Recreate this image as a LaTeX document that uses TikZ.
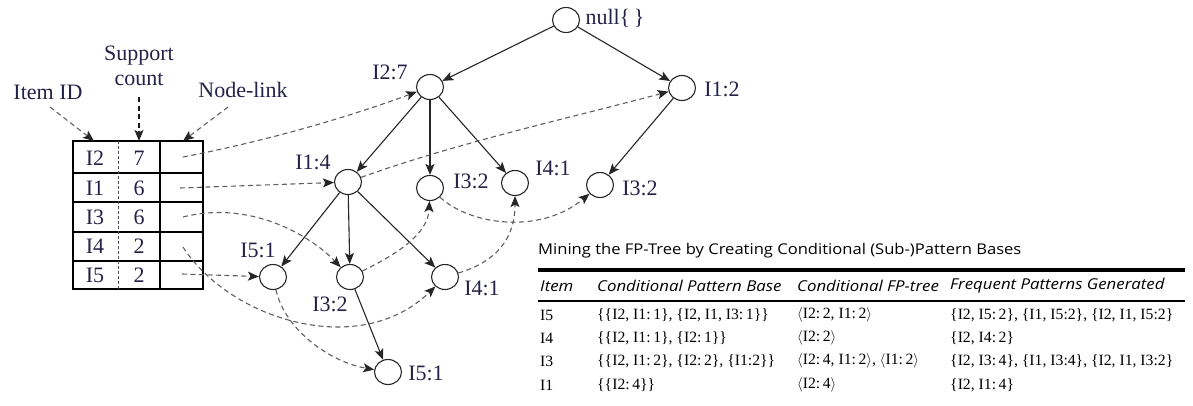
\documentclass[tikz,border=0pt]{standalone}
\usepackage{fontspec}
\setmainfont{Liberation Serif}
\newfontfamily\capfont[FakeStretch=1.12]{Open Sans}
\usetikzlibrary{arrows.meta,shapes.geometric}
\definecolor{labelc}{RGB}{36,34,72}
\definecolor{linkc}{RGB}{95,95,95}
\begin{document}
\begin{tikzpicture}[x=1pt,y=-1pt,
  treenode/.style={draw=black!85, line width=1.1pt, ellipse, minimum width=27pt, minimum height=25pt, inner sep=0pt},
  lbl/.style={font=\fontsize{22}{26}\selectfont, text=labelc, inner sep=0pt},
  celltxt/.style={font=\fontsize{22}{26}\selectfont, text=labelc, inner sep=0pt},
  tip/.style={-{Stealth[length=11pt,width=9pt,inset=2.5pt]}},
  darktip/.style={-{Stealth[length=11pt,width=9pt,inset=2.5pt,color=black!85]}},
  treearrow/.style={tip, line width=1.1pt, draw=black!85},
  nodelink/.style={darktip, line width=1.1pt, draw=linkc, dash pattern=on 5pt off 3.5pt},
  darklink/.style={darktip, line width=1.1pt, draw=black!90, dash pattern=on 5pt off 3.5pt},
  captxt/.style={font=\capfont\fontsize{14.8}{17}\selectfont, anchor=west, inner sep=0pt},
  headtxt/.style={font=\capfont\itshape\fontsize{15}{17}\selectfont, anchor=west, inner sep=0pt},
  bodytxt/.style={font=\fontsize{15.7}{17}\selectfont, anchor=west, inner sep=0pt}
]
\useasboundingbox (0,0) rectangle (1193,405);

% ---------- header table ----------
\draw[line width=1.1pt] (73,141) rectangle (203,289);
\foreach \yy in {173,202,232,261} \draw[line width=1.1pt] (73,\yy) -- (203,\yy);
\draw[line width=1.1pt] (160,141) -- (160,289);
\draw[line width=0.9pt, black!70, dash pattern=on 3pt off 2pt] (118,141) -- (118,289);

\node[celltxt] (id2) at (95,158) {I2};  \node[celltxt] (c2) at (139,158) {7};
\node[celltxt] (id1) at (95,188) {I1};  \node[celltxt] (c1) at (139,188) {6};
\node[celltxt] (id3) at (95,217) {I3};  \node[celltxt] (c3) at (139,217) {6};
\node[celltxt] (id4) at (95,246) {I4};  \node[celltxt] (c4) at (139,246) {2};
\node[celltxt] (id5) at (95,275) {I5};  \node[celltxt] (c5) at (139,275) {2};

% column captions
\node[lbl] (lid) at (48,92) {Item ID};
\node[lbl, align=center] (lsup) at (139,66) {Support\\[-1pt]count};
\node[lbl] (lnl) at (243,90) {Node-link};
\coordinate (aid0) at (50,107);  \coordinate (aid1) at (94,141);
\coordinate (asp0) at (139,97);  \coordinate (asp1) at (139,141);
\coordinate (anl0) at (228,107); \coordinate (anl1) at (183,141);
\draw[nodelink] (aid0) -- (aid1);
\draw[darklink] (asp0) -- (asp1);
\draw[nodelink] (anl0) -- (anl1);

% node-link starts
\coordinate (s2) at (183,157);
\coordinate (s1) at (180,188);
\coordinate (s3) at (183,217);
\coordinate (s4) at (183,247);
\coordinate (s5) at (182,274);

% ---------- FP-tree ----------
\node[treenode] (root) at (566,20) {};
\node[treenode] (n27) at (430,87) {};
\node[treenode] (n12) at (682,88) {};
\node[treenode] (n14) at (348,182) {};
\node[treenode] (n32a) at (430,188) {};
\node[treenode] (n41a) at (515,183) {};
\node[treenode] (n32r) at (600,185) {};
\node[treenode] (n51l) at (273,277) {};
\node[treenode] (n32m) at (350,277) {};
\node[treenode] (n41r) at (445,277) {};
\node[treenode] (n51b) at (388,372) {};

\node[lbl] (troot) at (615,18) {null\{\,\}};
\node[lbl] (t27) at (390,72) {I2:7};
\node[lbl] (t12) at (722,89) {I1:2};
\node[lbl] (t14) at (313,162) {I1:4};
\node[lbl] (t32a) at (471,181) {I3:2};
\node[lbl] (t41a) at (553,168) {I4:1};
\node[lbl] (t32r) at (640,188) {I3:2};
\node[lbl] (t51l) at (258,250) {I5:1};
\node[lbl] (t32m) at (330,304) {I3:2};
\node[lbl] (t41r) at (482,288) {I4:1};
\node[lbl] (t51b) at (426,373) {I5:1};

% parent-child edges
\draw[treearrow] (root) -- (n27);
\draw[treearrow] (root) -- (n12);
\draw[treearrow] (n27) -- (n14);
\draw[treearrow] (n27) -- (n32a);
\draw[treearrow] (n27) -- (n41a);
\draw[treearrow] (n12) -- (n32r);
\draw[treearrow] (n14) -- (n51l);
\draw[treearrow] (n14) -- (n32m);
\draw[treearrow] (n14) -- (n41r);
\draw[treearrow] (n32m) -- (n51b);

% node-links from the header table
\draw[nodelink] (s2) .. controls (261,142) and (340,120) .. (n27);
\draw[nodelink] (s1) -- (n14);
\draw[nodelink] (s3) .. controls (250,200) and (310,235) .. (n32m);
\draw[nodelink] (s4) .. controls (230,320) and (360,360) .. (n41r);
\draw[nodelink] (s5) -- (n51l);

% node-links between tree nodes
\draw[nodelink] (n14) .. controls (460,142) and (570,118) .. (n12);
\draw[nodelink] (n32m) .. controls (395,255) and (428,235) .. (n32a);
\draw[nodelink] (n32a) .. controls (470,225) and (540,235) .. (n32r);
\draw[nodelink] (n41r) .. controls (495,262) and (515,240) .. (n41a);
\draw[nodelink] (n51l) .. controls (285,330) and (330,362) .. (n51b);

% ---------- conditional pattern bases ----------
\node[captxt] (cap) at (538,251) {Mining the FP-Tree by Creating Conditional (Sub-)Pattern Bases};
\draw[line width=3.2pt] (538,270) -- (1185,270);
\node[headtxt] (h1) at (540,286) {Item};
\node[headtxt] (h2) at (597,286) {Conditional Pattern Base};
\node[headtxt] (h3) at (797,286) {Conditional FP-tree};
\node[headtxt] (h4) at (950,286) {Frequent Patterns Generated};
\draw[line width=1.3pt] (538,301) -- (1185,301);

\node[bodytxt] (r1a) at (540,315) {I5};
\node[bodytxt] (r1b) at (597,315) {\{\{I2, I1:\,1\}, \{I2, I1, I3:\,1\}\}};
\node[bodytxt] (r1c) at (797,315) {$\langle$I2:\,2, I1:\,2$\rangle$};
\node[bodytxt] (r1d) at (950,315) {\{I2, I5:\,2\}, \{I1, I5:2\}, \{I2, I1, I5:2\}};

\node[bodytxt] (r2a) at (540,338) {I4};
\node[bodytxt] (r2b) at (597,338) {\{\{I2, I1:\,1\}, \{I2:\,1\}\}};
\node[bodytxt] (r2c) at (797,338) {$\langle$I2:\,2$\rangle$};
\node[bodytxt] (r2d) at (950,338) {\{I2, I4:\,2\}};

\node[bodytxt] (r3a) at (540,361) {I3};
\node[bodytxt] (r3b) at (597,361) {\{\{I2, I1:\,2\}, \{I2:\,2\}, \{I1:2\}\}};
\node[bodytxt] (r3c) at (797,361) {$\langle$I2:\,4, I1:\,2$\rangle$, $\langle$I1:\,2$\rangle$};
\node[bodytxt] (r3d) at (950,361) {\{I2, I3:\,4\}, \{I1, I3:4\}, \{I2, I1, I3:2\}};

\node[bodytxt] (r4a) at (540,385) {I1};
\node[bodytxt] (r4b) at (597,385) {\{\{I2:\,4\}\}};
\node[bodytxt] (r4c) at (797,385) {$\langle$I2:\,4$\rangle$};
\node[bodytxt] (r4d) at (950,385) {\{I2, I1:\,4\}};
\end{tikzpicture}
\end{document}
